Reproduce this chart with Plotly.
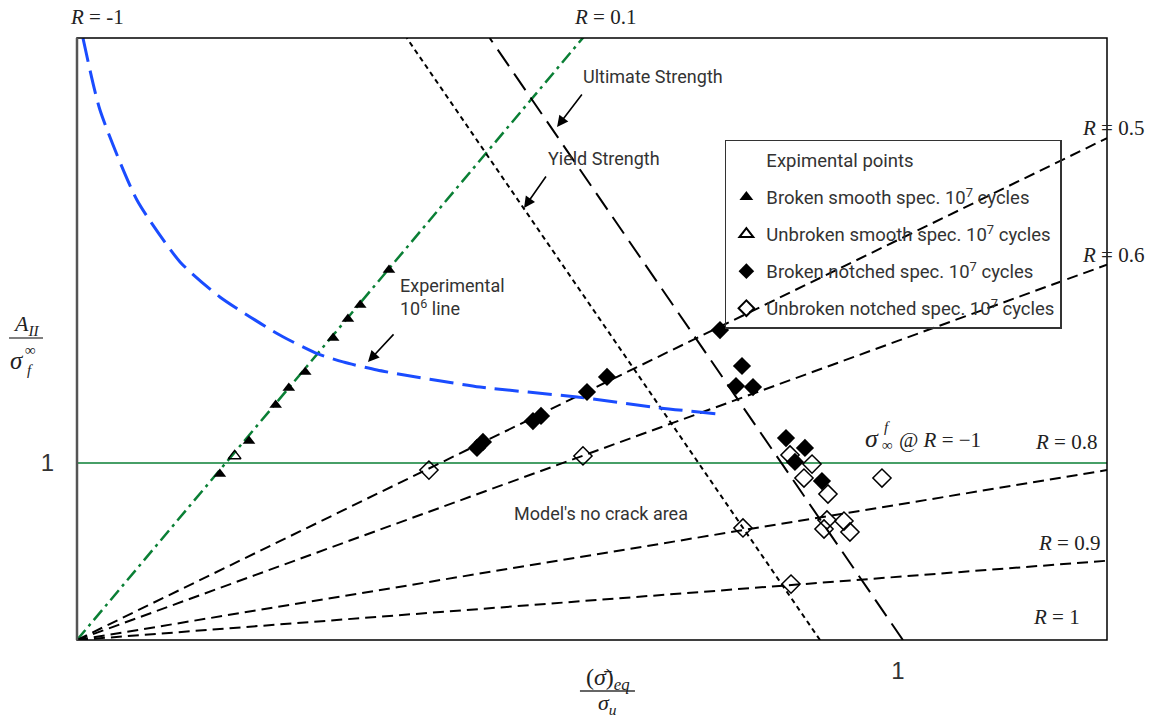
import plotly.graph_objects as go

# ---------------- data ----------------
# constant-R load lines through the origin: slope of A_II/sigma_f vs sigma_eq/sigma_u
r_labels = ["-1", "0.5", "0.6", "0.8", "0.9"]
r_slopes = [5.52, 2.26, 1.69, 0.765, 0.357]

# static strength limits: x-intercept and inverse slope (dx per unit y)
strength_names = ["Ultimate Strength", "Yield Strength"]
strength_x0 = [1.006, 0.905]
strength_k = [0.148, 0.148]

# experimental 10^6 cycle curve
exp6_x = [0.0073, 0.028, 0.073, 0.1255, 0.174, 0.247, 0.2935, 0.324, 0.3654, 0.491, 0.609, 0.710, 0.781]
exp6_y = [3.40, 2.994, 2.486, 2.136, 1.938, 1.723, 1.616, 1.571, 1.525, 1.429, 1.373, 1.311, 1.277]

# broken smooth specimens, 10^7 cycles
bs_x = [0.380, 0.345, 0.330, 0.312, 0.278, 0.258, 0.242, 0.2095, 0.174]
bs_y = [2.090, 1.893, 1.814, 1.706, 1.514, 1.424, 1.328, 1.124, 0.938]

# unbroken smooth specimens, 10^7 cycles
us_x = [0.192]
us_y = [1.040]

# broken notched specimens, 10^7 cycles
bn_x = [0.7832, 0.810, 0.8027, 0.8234, 0.6456, 0.6212, 0.5652, 0.5554, 0.4945, 0.4872,
        0.8636, 0.8867, 0.8745, 0.9074]
bn_y = [1.751, 1.548, 1.435, 1.429, 1.486, 1.401, 1.266, 1.237, 1.119, 1.085,
        1.141, 1.085, 1.006, 0.898]

# unbroken notched specimens, 10^7 cycles
un_x = [0.4287, 0.6163, 0.8112, 0.8697, 0.8685, 0.8953, 0.8855, 0.9147, 0.9805,
        0.9135, 0.9342, 0.9415, 0.9099]
un_y = [0.960, 1.040, 0.633, 0.316, 1.045, 0.994, 0.915, 0.825, 0.915,
        0.678, 0.672, 0.610, 0.627]

fatigue_limit = 1.0
X_MAX = 1.2546
Y_MAX = 3.401

# ---------------- styles ----------------
SANS = "Roboto, Liberation Sans, Arial, sans-serif"
SERIF = "Liberation Serif, DejaVu Serif, serif"
GREEN = "#0a7f35"
BLUE = "#1a4cff"
TXT = "#333333"
SER_TXT = "#222222"

fig = go.Figure()

# fatigue limit at R = -1
fig.add_trace(go.Scatter(x=[0, X_MAX], y=[fatigue_limit, fatigue_limit], mode="lines",
                         line=dict(color=GREEN, width=1.5), showlegend=False, hoverinfo="skip"))

# constant-R lines
for lab, s in zip(r_labels, r_slopes):
    if lab == "-1":
        ln = dict(color=GREEN, width=2.5, dash="13px,5px,3px,5px")
    else:
        ln = dict(color="black", width=2, dash="11px,6px")
    fig.add_trace(go.Scatter(x=[0, X_MAX], y=[0, s * X_MAX], mode="lines", line=ln,
                             showlegend=False, hoverinfo="skip"))

# strength limit lines
for name, x0, k in zip(strength_names, strength_x0, strength_k):
    dash = "20px,9px" if name.startswith("Ultimate") else "5px,4px"
    fig.add_trace(go.Scatter(x=[x0, x0 - k * Y_MAX], y=[0, Y_MAX], mode="lines",
                             line=dict(color="black", width=2, dash=dash),
                             showlegend=False, hoverinfo="skip"))

# experimental 10^6 line
fig.add_trace(go.Scatter(x=exp6_x, y=exp6_y, mode="lines",
                         line=dict(color=BLUE, width=3, dash="24px,9px", shape="spline", smoothing=0.6),
                         showlegend=False, hoverinfo="skip"))

# legend heading entry
fig.add_trace(go.Scatter(x=[None], y=[None], mode="markers", name="Expimental points",
                         marker=dict(color="rgba(0,0,0,0)", size=1), legendgroup="g0"))

fig.add_trace(go.Scatter(x=bs_x, y=bs_y, mode="markers", name="Broken smooth spec. 10<sup>7</sup> cycles",
                         marker=dict(symbol="triangle-up", color="black", size=11), legendgroup="g1"))
fig.add_trace(go.Scatter(x=us_x, y=us_y, mode="markers", name="Unbroken smooth spec. 10<sup>7</sup> cycles",
                         marker=dict(symbol="triangle-up-open", color="black", size=11,
                                     line=dict(width=1.5)), legendgroup="g2"))
fig.add_trace(go.Scatter(x=bn_x, y=bn_y, mode="markers", name="Broken notched spec. 10<sup>7</sup> cycles",
                         marker=dict(symbol="diamond", color="black", size=14), legendgroup="g3"))
fig.add_trace(go.Scatter(x=un_x, y=un_y, mode="markers", name="Unbroken notched spec. 10<sup>7</sup> cycles",
                         marker=dict(symbol="diamond-open", color="black", size=14,
                                     line=dict(width=1.5)), legendgroup="g4"))

# ---------------- annotations ----------------
ann = []


def txt(x, y, text, size=18, family=SANS, color=TXT, xanchor="center", yanchor="middle",
        xref="x", yref="y", align="center"):
    ann.append(dict(x=x, y=y, xref=xref, yref=yref, text=text, showarrow=False,
                    font=dict(family=family, size=size, color=color),
                    xanchor=xanchor, yanchor=yanchor, align=align))


def arrow(x, y, ax, ay):
    ann.append(dict(x=x, y=y, xref="x", yref="y", ax=ax, ay=ay, text="", showarrow=True,
                    arrowhead=2, arrowsize=1.4, arrowwidth=1.6, arrowcolor="black"))


# R labels outside the plotting area (paper coordinates)
txt(0.0194, 1.0349, "<i>R</i> = -1", family=SERIF, size=21, color=SER_TXT, xref="paper", yref="paper")
txt(0.5126, 1.0349, "<i>R</i> = 0.1", family=SERIF, size=21, color=SER_TXT, xref="paper", yref="paper")
txt(1.0058, 0.8505, "<i>R</i> = 0.5", family=SERIF, size=21, color=SER_TXT, xref="paper", yref="paper")
txt(1.0058, 0.6395, "<i>R</i> = 0.6", family=SERIF, size=21, color=SER_TXT, xref="paper", yref="paper")
# R labels inside
txt(1.2046, 1.119, "<i>R</i> = 0.8", family=SERIF, size=21, color=SER_TXT)
txt(1.208, 0.548, "<i>R</i> = 0.9", family=SERIF, size=21, color=SER_TXT)
txt(1.1925, 0.130, "<i>R</i> = 1", family=SERIF, size=21, color=SER_TXT)

# callouts
txt(0.7016, 3.181, "Ultimate Strength")
arrow(0.5847, 2.898, 26, -34)
txt(0.642, 2.723, "Yield Strength")
arrow(0.5445, 2.441, 23, -33)
txt(0.391, 1.938, "Experimental<br>10<sup>6</sup> line", xanchor="left", align="left")
arrow(0.3544, 1.571, 27, -29)
txt(0.638, 0.7175, "Model's no crack area")

# sigma_inf^f @ R = -1
txt(0.968, 1.141, "<i>σ</i>", family=SERIF, size=26, color=SER_TXT)
txt(0.9866, 1.205, "<i>f</i>", family=SERIF, size=15, color=SER_TXT)
txt(0.9878, 1.100, "∞", family=SERIF, size=15, color=SER_TXT)
txt(0.9988, 1.130, "@ <i>R</i> = −1", family=SERIF, size=21, color=SER_TXT, xanchor="left")

# y-axis title as a fraction
txt(-0.0495, 0.523, "<i>A</i><sub><i>II</i></sub>", family=SERIF, size=22, color=SER_TXT,
    xref="paper", yref="paper")
txt(-0.0585, 0.464, "<i>σ</i>", family=SERIF, size=25, color=SER_TXT, xref="paper", yref="paper")
txt(-0.0450, 0.482, "∞", family=SERIF, size=15, color=SER_TXT, xref="paper", yref="paper")
txt(-0.0458, 0.449, "<i>f</i>", family=SERIF, size=15, color=SER_TXT, xref="paper", yref="paper")

# x-axis title as a fraction
txt(0.5155, -0.064, "(<i>σ̄</i>)<sub><i>eq</i></sub>", family=SERIF, size=24, color=SER_TXT,
    xref="paper", yref="paper")
txt(0.5155, -0.107, "<i>σ</i><sub><i>u</i></sub>", family=SERIF, size=22, color=SER_TXT,
    xref="paper", yref="paper")

shapes = [
    # fraction bars
    dict(type="line", xref="paper", yref="paper", x0=-0.066, x1=-0.033, y0=0.5017, y1=0.5017,
         line=dict(color="#555", width=1.5)),
    dict(type="line", xref="paper", yref="paper", x0=0.4883, x1=0.5417, y0=-0.0847, y1=-0.0847,
         line=dict(color="#333", width=1.5)),
    # frame
    dict(type="rect", xref="paper", yref="paper", x0=0, x1=1, y0=0, y1=1,
         line=dict(color="black", width=1.5)),
    dict(type="line", xref="paper", yref="paper", x0=0, x1=0, y0=0, y1=1,
         line=dict(color="#555", width=2.5)),
]

fig.update_layout(
    width=1149, height=720,
    margin=dict(l=77, r=42, t=38, b=80),
    paper_bgcolor="white", plot_bgcolor="white",
    xaxis=dict(range=[0, X_MAX], showgrid=False, zeroline=False, showline=False,
               tickvals=[1], ticktext=["1"], ticks="", ticklabelstandoff=14,
               tickfont=dict(family="Liberation Sans, Arial, sans-serif", size=24, color=TXT)),
    yaxis=dict(range=[0, Y_MAX], showgrid=False, zeroline=False, showline=False,
               tickvals=[1], ticktext=["1"], ticks="", ticklabelstandoff=22,
               tickfont=dict(family="Liberation Sans, Arial, sans-serif", size=24, color=TXT)),
    legend=dict(x=0.629, y=0.8306, xanchor="left", yanchor="top",
                bordercolor="#333", borderwidth=1.5, bgcolor="rgba(255,255,255,0)",
                font=dict(family=SANS, size=18.5, color=TXT),
                traceorder="grouped", tracegroupgap=10, itemsizing="constant"),
    annotations=ann,
    shapes=shapes,
    showlegend=True,
)

fig.write_html("out.html")
